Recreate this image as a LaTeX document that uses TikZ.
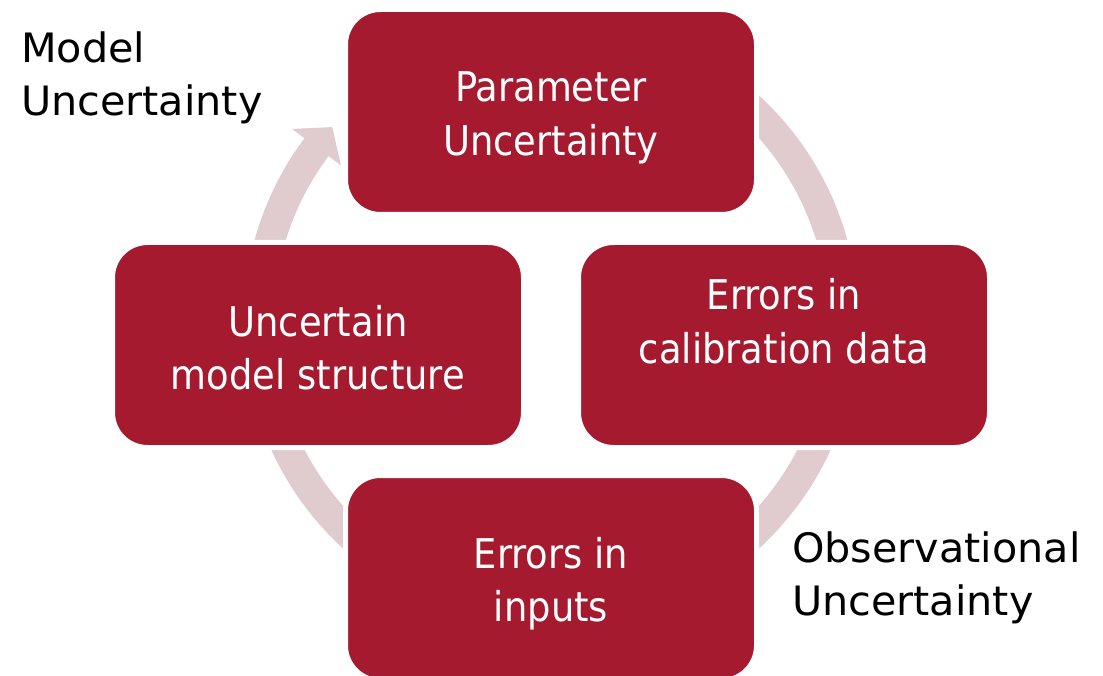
\documentclass[tikz,border=0pt]{standalone}
\usepackage{fontspec}
\setmainfont[FakeStretch=1.02]{DejaVu Sans}
\newfontfamily\boxfont[FakeStretch=0.9]{DejaVu Sans}
\definecolor{boxred}{RGB}{165,26,47}
\definecolor{ringpink}{RGB}{224,203,206}
% fixed height for the first line, so the top of a text block sits 32pt above its first baseline
\newcommand\firstlinestrut{\rule{0pt}{32pt}}

\begin{document}
\begin{tikzpicture}[x=1pt,y=-1pt,
  stage/.style={rectangle, rounded corners=35pt, fill=boxred, draw=white,
    line width=5pt, minimum width=411pt, minimum height=205pt},
  stagetext/.style={anchor=north, align=center, inner sep=0pt, text=white,
    font=\boxfont\fontsize{41}{53.5}\selectfont},
  ring/.style={draw=ringpink, line width=30pt},
  tag/.style={anchor=north west, align=left, inner sep=0pt, text=black,
    font=\fontsize{40.5}{53}\selectfont}]
\useasboundingbox (0,0) rectangle (1103,676);
\clip (0,0) rectangle (1103,676);

% cycle ring with its arrow head, drawn first so the boxes cover it
\coordinate (hub) at (551,322);
\draw[ring] (hub) ++(143:292.5pt) arc[start angle=143, end angle=460, radius=292.5pt];
\path (hub) ++(143.3:323pt) coordinate (wa)
      (hub) ++(138.3:293pt) coordinate (tip)
      (hub) ++(143.3:262pt) coordinate (wb);
\fill[ringpink] (wa) -- (tip) -- (wb) -- cycle;

% the four stages
\node[stage] (param)  at (551,112) {};
\node[stage] (calib)  at (784,345) {};
\node[stage] (inputs) at (551,578) {};
\node[stage] (struct) at (318,345) {};

% their texts, placed by the baseline of the first line
\node[stagetext] (param-t)  at (551,101.7-32) {\firstlinestrut Parameter\\Uncertainty};
\node[stagetext] (calib-t)  at (784,309.3-32) {\firstlinestrut Errors in\\calibration data};
\node[stagetext] (inputs-t) at (551,568-32)   {\firstlinestrut Errors in\\inputs};
\node[stagetext] (struct-t) at (318,336-32)   {\firstlinestrut Uncertain\\model structure};

% side labels
\node[tag] (mlabel) at (21,62-32)   {\firstlinestrut Model\\Uncertainty};
\node[tag] (olabel) at (792,562-32) {\firstlinestrut Observational\\Uncertainty};
\end{tikzpicture}
\end{document}
